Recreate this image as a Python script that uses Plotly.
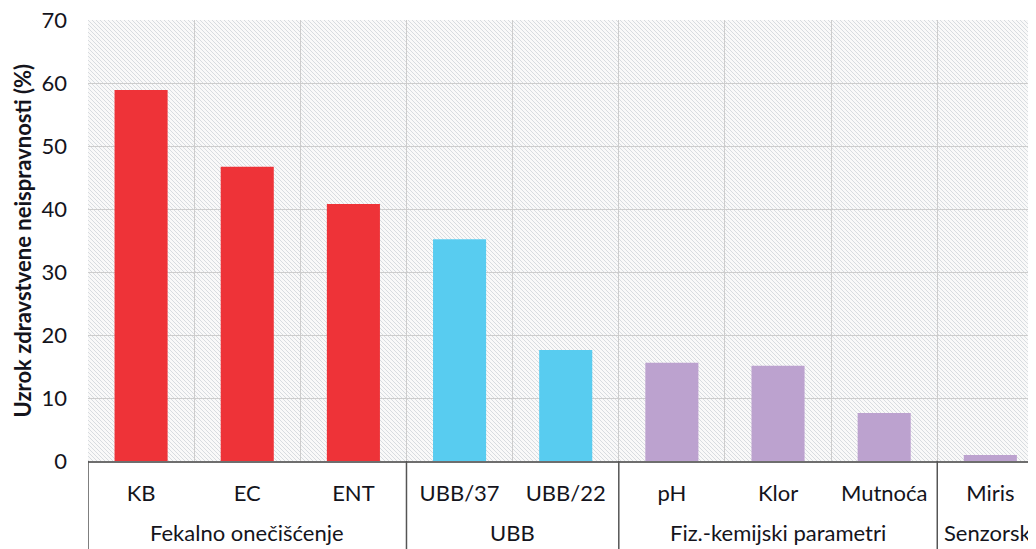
import base64
import plotly.graph_objects as go

categories = ["KB", "EC", "ENT", "UBB/37", "UBB/22", "pH", "Klor", "Mutnoća", "Miris"]
values = [58.9, 46.7, 40.8, 35.2, 17.6, 15.6, 15.1, 7.6, 0.95]
bar_colors = ["#EE3338", "#EE3338", "#EE3338", "#58CCF0", "#58CCF0",
              "#BCA2CF", "#BCA2CF", "#BCA2CF", "#BCA2CF"]
groups = ["Fekalno onečišćenje", "UBB", "Fiz.-kemijski parametri", "Senzorski"]
group_centers = [1, 3.5, 6, 8]
group_dividers = [-0.5, 2.5, 4.5, 7.5]
y_title = "Uzrok zdravstvene neispravnosti (%)"

FONT = "Lato, 'Open Sans', sans-serif"
TXT = "#14141c"
# page has an 8px body margin, so the figure is sized to fill the rest of the window
W, H = 1028, 541
ML, MR, MT, MB = 80, 0, 12, 88
PW, PH = W - ML - MR, H - MT - MB

svg = f'''<svg xmlns="http://www.w3.org/2000/svg" width="{PW}" height="{PH}" viewBox="0 0 {PW} {PH}" preserveAspectRatio="none">
<defs><pattern id="h" patternUnits="userSpaceOnUse" width="4" height="4">
<rect width="4" height="4" fill="#F9F9F9"/>
<path d="M-1,-1 L5,5 M-1,3 L1,5 M3,-1 L5,1" stroke="#D8DCE0" stroke-width="1.0"/>
</pattern></defs>
<rect width="{PW}" height="{PH}" fill="url(#h)"/></svg>'''
src = "data:image/svg+xml;base64," + base64.b64encode(svg.encode()).decode()

fig = go.Figure()
fig.add_trace(go.Bar(x=categories, y=values, marker=dict(color=bar_colors, line=dict(width=0)),
                     width=0.5, hoverinfo="x+y"))

fig.add_layout_image(dict(source=src, xref="paper", yref="paper", x=0, y=1, sizex=1, sizey=1,
                          xanchor="left", yanchor="top", sizing="stretch", layer="below"))

shapes = []
for d in group_dividers:
    shapes.append(dict(type="line", xref="x", yref="paper", x0=d, x1=d, y0=0, y1=-MB / PH,
                       line=dict(color="#555555", width=1.5)))
fig.update_layout(shapes=shapes)

for g, c in zip(groups, group_centers):
    fig.add_annotation(x=c, y=0, xref="x", yref="paper", text=g, showarrow=False,
                       yanchor="middle", yshift=-71, font=dict(family=FONT, size=22, color=TXT))

fig.add_annotation(x=(14 - ML) / PW, y=0.5, xref="paper", yref="paper", text=y_title,
                   textangle=-90, showarrow=False, xanchor="center", yanchor="middle",
                   font=dict(family=FONT, size=22, color=TXT, weight="bold"))

fig.update_layout(
    width=W, height=H,
    margin=dict(l=ML, r=MR, t=MT, b=MB, autoexpand=False),
    paper_bgcolor="white", plot_bgcolor="rgba(0,0,0,0)",
    showlegend=False,
    font=dict(family=FONT, size=22, color=TXT),
    xaxis=dict(type="category", range=[-0.5, 8.43], tickson="boundaries", showgrid=True,
               gridcolor="#CDCDCD", gridwidth=1, ticks="", showline=True, linecolor="#6E6E6E",
               linewidth=2, ticklabelstandoff=12, automargin=False,
               tickfont=dict(family=FONT, size=22, color=TXT), zeroline=False),
    yaxis=dict(range=[0, 70], dtick=10, showgrid=True, gridcolor="#CDCDCD", gridwidth=1,
               zeroline=False, showline=False, ticks="", ticklabelstandoff=20, automargin=False,
               ticklabeloverflow="allow",
               tickfont=dict(family=FONT, size=22, color=TXT)),
    bargap=0.5,
)

fig.write_html("out.html")
